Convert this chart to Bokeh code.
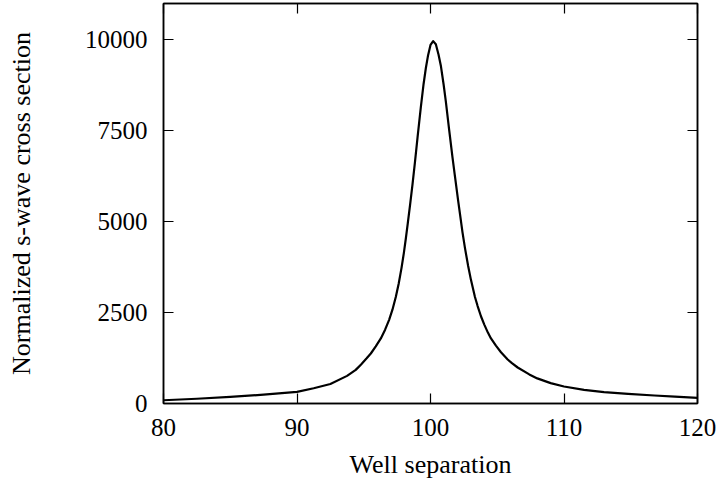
from bokeh.plotting import figure
from bokeh.models import LinearAxis, FixedTicker, Range1d
from bokeh.embed import file_html
from bokeh.resources import INLINE

# Data
separation = [80.0, 82.5, 85.0, 87.5, 90.0, 91.25, 92.5, 93.75, 94.4, 94.8,
              95.2, 95.53, 95.9, 96.28, 96.6, 96.9, 97.15, 97.4, 97.62,
              97.83, 98.0, 98.15, 98.3, 98.47, 98.65, 98.83, 99.03, 99.27,
              99.48, 99.65, 99.82, 100.0, 100.2, 100.4, 100.6, 100.78,
              100.98, 101.15, 101.4, 101.65, 101.83, 102.07, 102.22, 102.4,
              102.58, 102.82, 103.03, 103.33, 103.53, 103.78, 104.03, 104.3,
              104.53, 104.9, 105.28, 105.78, 106.1, 106.53, 107.4, 108.0,
              109.0, 110.0, 111.5, 113.0, 114.8, 116.77, 118.3, 120.0]
cross_section = [90, 130, 180, 245, 320, 420, 535, 760, 925, 1075,
                 1235, 1375, 1570, 1790, 2030, 2300, 2580, 2930, 3300,
                 3730, 4130, 4530, 4960, 5460, 6020, 6620, 7320, 8130,
                 8780, 9220, 9580, 9860, 9965, 9880, 9600, 9280,
                 8780, 8300, 7520, 6760, 6250, 5580, 5180, 4700,
                 4280, 3780, 3400, 2930, 2680, 2400, 2170, 1950,
                 1790, 1590, 1410, 1210, 1110, 990, 800, 690,
                 560, 467, 375, 312, 265, 220, 190, 157]
x_ticks = [80, 90, 100, 110, 120]
y_ticks = [0, 2500, 5000, 7500, 10000]

FONT = "Liberation Serif"

p = figure(width=718, height=484, output_backend="svg", toolbar_location=None,
           x_range=Range1d(80, 120), y_range=Range1d(0, 11000),
           x_axis_label="Well separation",
           y_axis_label="Normalized s-wave cross section",
           min_border_left=163, min_border_right=21,
           min_border_top=3, min_border_bottom=81)

p.grid.visible = False
p.outline_line_color = "black"
p.outline_line_width = 1.5
p.background_fill_color = "white"
p.border_fill_color = "white"

p.line(separation, cross_section, line_color="black", line_width=2.2,
       line_join="round")

def style(ax, ticks, labels=True):
    ax.ticker = FixedTicker(ticks=ticks)
    ax.major_tick_in = 10
    ax.major_tick_out = 0
    ax.minor_tick_line_color = None
    ax.major_tick_line_color = "black"
    ax.major_tick_line_width = 1.2
    ax.axis_line_color = "black"
    ax.axis_line_width = 1.5
    ax.major_label_text_font = FONT
    ax.major_label_text_font_size = "25px" if labels else "0px"
    ax.major_label_text_color = "black"
    ax.axis_label_text_font = FONT
    ax.axis_label_text_font_size = "26px"
    ax.axis_label_text_font_style = "normal"
    ax.axis_label_text_color = "black"

style(p.xaxis[0], x_ticks)
style(p.yaxis[0], y_ticks)
p.xaxis[0].major_label_standoff = 15
p.xaxis[0].axis_label_standoff = 11
p.yaxis[0].major_label_standoff = 16
p.yaxis[0].axis_label_standoff = 46

top = LinearAxis()
style(top, x_ticks, labels=False)
top.major_label_standoff = 0
p.add_layout(top, "above")

right = LinearAxis()
style(right, y_ticks, labels=False)
right.major_label_standoff = 0
p.add_layout(right, "right")

open("out.html", "w").write(file_html(p, INLINE))
